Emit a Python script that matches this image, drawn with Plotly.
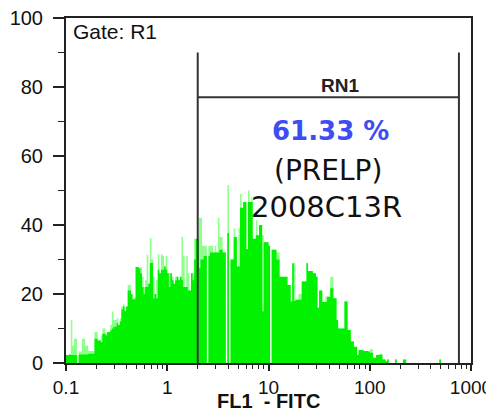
import numpy as np
import plotly.graph_objects as go

# FL1-FITC histogram, 64 log channels per decade starting at 0.1
counts = [
    2.3, 2.3, 2.5, 2.3, 2.3, 2.3, 2.3, 0, 2.5, 2.5,
    2.5, 2.5, 2.5, 2.5, 2.7, 2.7, 2.7, 2.7, 7, 7,
    6.5, 6.5, 6, 8.5, 8.5, 8, 9, 9, 9.5, 10,
    10.5, 10.5, 11.5, 11, 12, 15.5, 16.4, 15, 16.4, 21,
    21, 20, 18.5, 18.5, 27.8, 27.8, 27.5, 26, 22, 20,
    22, 22, 23, 29, 29, 18.7, 20, 18.7, 27, 26,
    27, 27, 28, 27, 26, 22, 26, 24, 23, 24,
    25, 24, 25, 24, 22, 22, 22, 21, 21, 26,
    24, 30, 36, 36, 27.5, 30, 30, 31, 31, 0,
    31, 32, 32, 32, 32, 32, 32, 32.8, 32.8, 32,
    32, 0, 37.7, 0, 30, 30, 36.5, 36.5, 28, 28,
    45, 45, 46.7, 46.7, 33, 46.7, 46.7, 46.7, 36, 36,
    37, 37, 40, 40, 15, 35, 35, 35, 34, 0,
    32.8, 32.8, 32.8, 30, 30, 25, 25, 25, 25, 25,
    22.6, 22.6, 17.8, 28.9, 18, 18.3, 18.3, 18.3, 18.3, 23.6,
    23.6, 23.6, 28.9, 26.7, 26.7, 26.7, 26, 26, 25, 16,
    21, 21, 17.7, 17.7, 17.7, 19.2, 19.2, 21.7, 21.7, 18.8,
    18.8, 12.5, 10, 10, 10, 10, 17.8, 17.8, 9.6, 9.6,
    6.2, 6.2, 4.7, 4.7, 2.3, 3.8, 3.8, 3.8, 3.5, 3.5,
    3.5, 3.3, 3, 3, 1.5, 1.5, 2.3, 2.3, 2.5, 2.5,
    1, 1, 0.5, 1, 0, 0, 0, 0, 1, 0,
    0, 0, 0, 1, 1, 0, 0, 0, 0, 0,
    0, 0, 0, 0, 0, 0, 0, 0, 0, 0,
    0, 0, 0, 0, 0, 0, 1, 0, 0, 0,
]
peaks = [
    2.3, 2.3, 2.5, 12.5, 5, 7, 7, 0, 3.3, 3.3,
    7, 7, 5, 5, 3.5, 3.5, 3.5, 3.5, 9, 9,
    6.5, 6.5, 8, 10, 10, 8.5, 9, 9, 11, 14.9,
    12.5, 12.5, 13, 11, 13, 16.4, 17, 15, 16.4, 22.6,
    22.6, 20, 18.5, 19, 27.8, 27.8, 27.5, 27.8, 25, 22,
    24, 31.3, 23, 36.2, 30, 25, 20, 24, 31.5, 26,
    31.5, 31, 28, 31, 26, 26, 26, 25, 23, 25,
    25, 24, 25, 36.5, 31, 22, 31, 26, 21, 26,
    26, 36, 36, 36, 42, 42, 34, 34, 34, 0,
    34, 34, 34, 32, 34, 32, 42, 36.5, 36.5, 32,
    32, 0, 51.6, 0, 30, 30, 39, 36.5, 28, 39,
    49, 45, 46.7, 46.7, 33, 50, 46.7, 48, 36, 36,
    41.4, 37, 40, 40, 37, 35, 35, 35, 34, 0,
    32.8, 32.8, 32.8, 32, 32, 25, 25, 25, 25, 25,
    22.6, 22.6, 17.8, 28.9, 28.9, 18.3, 18.3, 20, 20, 23.6,
    23.6, 23.6, 28.9, 26.7, 26.7, 26.7, 26, 26, 25, 16,
    21, 21, 17.7, 17.7, 19.3, 19.2, 19.2, 25, 25, 18.8,
    18.8, 12.5, 10, 10, 10, 10, 17.8, 17.8, 9.6, 9.6,
    6.2, 6.2, 4.7, 4.7, 2.3, 3.8, 3.8, 3.8, 3.5, 3.5,
    3.5, 3.3, 4, 4, 1.5, 1.5, 2.3, 2.3, 2.5, 2.5,
    1, 1, 0.5, 1, 0, 0, 0, 0, 1, 0,
    0, 0, 0, 1, 1, 0, 0, 0, 0, 0,
    0, 0, 0, 0, 0, 0, 0, 0, 0, 0,
    0, 0, 0, 0, 0, 0, 1, 0, 0, 0,
]
channels_per_decade = 64
first_decade = -1

x_tick_vals = [0.1, 1, 10, 100, 1000]
x_tick_text = ["0.1", "1", "10", "100", "1000"]
y_tick_vals = [0, 20, 40, 60, 80, 100]

# RN1 marker region
gate_low, gate_high = 2.0, 760
gate_top, gate_bar = 90, 77
percent_text = "61.33 %"
sample_lines = ["(PRELP)", "2008C13R"]

n = len(counts)
edges = 10 ** (first_decade + np.arange(n + 1) / channels_per_decade)

fig = go.Figure()
fig.add_trace(go.Scatter(
    x=edges, y=peaks + [peaks[-1]], mode="lines", line=dict(width=0, shape="hv"),
    fill="tozeroy", fillcolor="#8cff8c", hoverinfo="skip", showlegend=False))
fig.add_trace(go.Scatter(
    x=edges, y=counts + [counts[-1]], mode="lines", line=dict(width=0, shape="hv"),
    fill="tozeroy", fillcolor="#00f200", hoverinfo="skip", showlegend=False))
fig.add_trace(go.Scatter(
    x=[gate_low, gate_low, None, gate_low, gate_high, None, gate_high, gate_high],
    y=[0, gate_top, None, gate_bar, gate_bar, None, 0, gate_top],
    mode="lines", line=dict(color="#333333", width=2), hoverinfo="skip",
    showlegend=False, connectgaps=False))

minor_x = [m * 10 ** d for d in range(-1, 3) for m in range(2, 10)]

axis_font = dict(family="Liberation Sans, Arial", size=20, color="#111111")
x_font = dict(family="Liberation Sans, Arial", size=19, color="#111111")
# the page body adds an 8px offset, so the figure is sized to fill the window
fig.update_layout(
    width=486, height=405,
    margin=dict(l=58, r=23, t=10, b=50, autoexpand=False),
    paper_bgcolor="white", plot_bgcolor="white",
    xaxis=dict(type="log", range=[-1, 3], showline=True, linecolor="#222222",
               linewidth=2, mirror=True, ticks="outside", ticklen=6, tickwidth=1.5,
               tickcolor="#222222", tickvals=x_tick_vals, ticktext=x_tick_text,
               tickfont=x_font, showgrid=False, zeroline=False,
               ticklabelstandoff=0, automargin=False, ticklabeloverflow="allow",
               minor=dict(ticks="outside", ticklen=4, tickwidth=1.2,
                          tickcolor="#222222", tickvals=minor_x, showgrid=False)),
    yaxis=dict(range=[0, 100], showline=True, linecolor="#222222", linewidth=2,
               mirror=True, ticks="outside", ticklen=11, tickwidth=1.5,
               tickcolor="#222222", tickvals=y_tick_vals, tickfont=axis_font,
               showgrid=False, zeroline=False, ticklabelstandoff=6, automargin=False,
               ticklabeloverflow="allow",
               minor=dict(ticks="outside", ticklen=6, tickwidth=1.2,
                          tickcolor="#222222", dtick=10, showgrid=False)),
    annotations=[
        dict(text="Gate: R1", xref="paper", yref="paper", x=0.012, y=0.962,
             xanchor="left", yanchor="middle", showarrow=False,
             font=dict(family="Liberation Sans, Arial", size=21, color="#111111")),
        dict(text="<b>RN1</b>", xref="paper", yref="paper", x=0.677, y=0.803,
             xanchor="center", yanchor="middle", showarrow=False,
             font=dict(family="Liberation Sans, Arial", size=19, color="#222222")),
        dict(text="<b>" + percent_text + "</b>", xref="paper", yref="paper", x=0.652, y=0.672,
             xanchor="center", yanchor="middle", showarrow=False,
             font=dict(family="DejaVu Sans", size=26, color="#3d4df2")),
        dict(text=sample_lines[0], xref="paper", yref="paper", x=0.647, y=0.557,
             xanchor="center", yanchor="middle", showarrow=False,
             font=dict(family="DejaVu Sans", size=28, color="#111111")),
        dict(text=sample_lines[1], xref="paper", yref="paper", x=0.644, y=0.452,
             xanchor="center", yanchor="middle", showarrow=False,
             font=dict(family="DejaVu Sans", size=29, color="#111111")),
        dict(text="<b>FL1  - FITC</b>", xref="paper", yref="paper", x=0.5, y=-0.11,
             xanchor="center", yanchor="middle", showarrow=False,
             font=dict(family="Liberation Sans, Arial", size=20, color="#111111")),
    ],
)

fig.write_html("out.html")
